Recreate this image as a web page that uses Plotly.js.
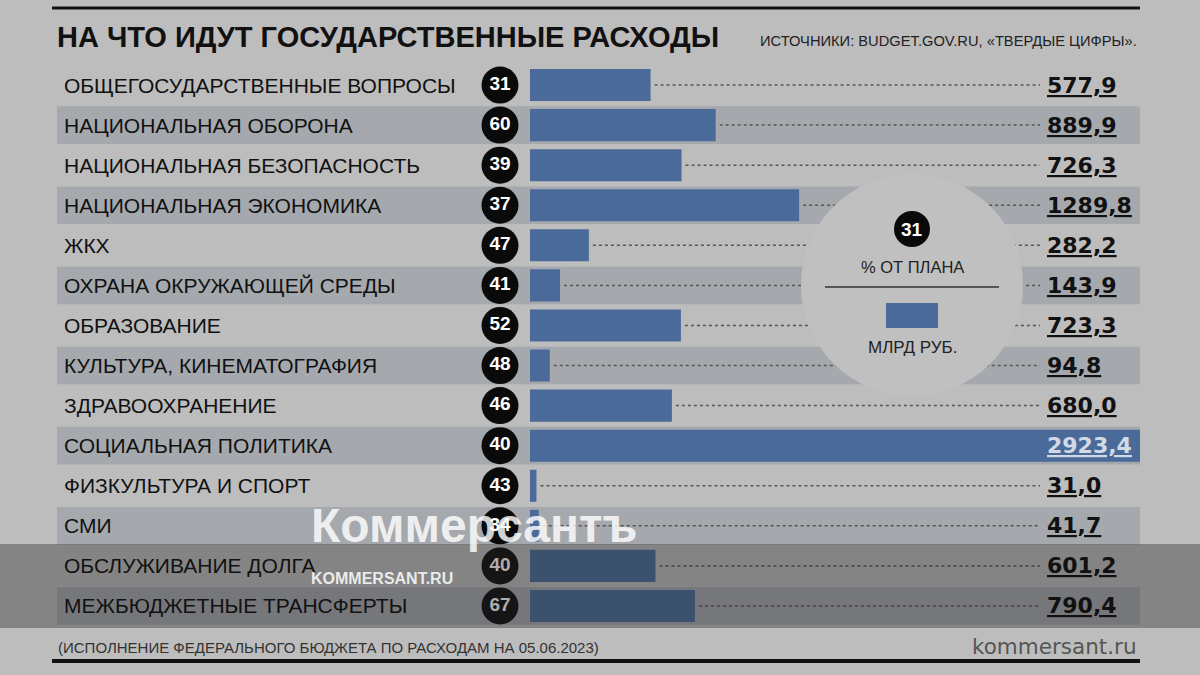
<!DOCTYPE html>
<html><head><meta charset="utf-8">
<script src="https://cdn.plot.ly/plotly-3.0.1.min.js"></script>
<style>html,body{margin:0;padding:0;background:#bdbdbd;}#chart{width:1200px;height:675px;}</style>
</head><body><div id="chart"></div>
<script>
const categories = ["ОБЩЕГОСУДАРСТВЕННЫЕ ВОПРОСЫ","НАЦИОНАЛЬНАЯ ОБОРОНА","НАЦИОНАЛЬНАЯ БЕЗОПАСНОСТЬ","НАЦИОНАЛЬНАЯ ЭКОНОМИКА","ЖКХ","ОХРАНА ОКРУЖАЮЩЕЙ СРЕДЫ","ОБРАЗОВАНИЕ","КУЛЬТУРА, КИНЕМАТОГРАФИЯ","ЗДРАВООХРАНЕНИЕ","СОЦИАЛЬНАЯ ПОЛИТИКА","ФИЗКУЛЬТУРА И СПОРТ","СМИ","ОБСЛУЖИВАНИЕ ДОЛГА","МЕЖБЮДЖЕТНЫЕ ТРАНСФЕРТЫ"];
const spendingBn = [577.9, 889.9, 726.3, 1289.8, 282.2, 143.9, 723.3, 94.8, 680.0, 2923.4, 31.0, 41.7, 601.2, 790.4];
const pctOfPlan = [31, 60, 39, 37, 47, 41, 52, 48, 46, 40, 43, 34, 40, 67];
const titleText = "НА ЧТО ИДУТ ГОСУДАРСТВЕННЫЕ РАСХОДЫ";
const sourceText = "ИСТОЧНИКИ: BUDGET.GOV.RU, «ТВЕРДЫЕ ЦИФРЫ».";
const noteText = "(ИСПОЛНЕНИЕ ФЕДЕРАЛЬНОГО БЮДЖЕТА ПО РАСХОДАМ НА 05.06.2023)";
const legendPct = "% ОТ ПЛАНА";
const legendUnit = "МЛРД РУБ.";
const legendSample = 31;

const W = 1200, H = 675;
const BG = "#bdbdbd", BAND = "#a5a9ae", BLUE = "#4a6b9a";
const xMax = Math.max(...spendingBn);
const plotL = 530, plotR = 1140, rowTop = 65, rowBot = 626;
const px2x = p => (p - plotL) / (plotR - plotL) * xMax;
const px = p => p / W;
const py = p => 1 - p / H;
const n = categories.length;
const idx = categories.map((_, i) => i);
const fmt = v => v.toFixed(1).replace('.', ',');
const bigIdx = spendingBn.indexOf(xMax);
const FONT = 'Liberation Sans, Arial, sans-serif';

const traces = [
  {type: 'bar', orientation: 'h', x: spendingBn, y: idx, width: 0.8,
   marker: {color: BLUE, line: {width: 0}}, hoverinfo: 'skip'},
  {type: 'scatter', mode: 'markers+text', xaxis: 'x2', yaxis: 'y', x: idx.map(() => 0), y: idx,
   text: pctOfPlan.map(String), textposition: 'middle center', cliponaxis: false,
   marker: {size: 37, color: '#0a0a0a'},
   textfont: {family: FONT, size: 19, color: '#ffffff', weight: 700},
   hoverinfo: 'skip'}
];

const shapes = [];
shapes.push({type: 'line', xref: 'paper', yref: 'paper', x0: px(52), x1: px(1140), y0: py(8), y1: py(8), line: {color: '#111', width: 3}});
shapes.push({type: 'line', xref: 'paper', yref: 'paper', x0: px(52), x1: px(1140), y0: py(661), y1: py(661), line: {color: '#111', width: 4}});
idx.forEach(i => { if (i % 2 === 1) shapes.push({type: 'rect', xref: 'paper', yref: 'y', x0: px(57), x1: px(1140), y0: i - 0.47, y1: i + 0.47, fillcolor: BAND, line: {width: 0}, layer: 'below'}); });
idx.forEach(i => { if (i !== bigIdx) shapes.push({type: 'line', xref: 'x', yref: 'y', x0: spendingBn[i] + px2x(plotL + 4), x1: px2x(1040), y0: i, y1: i, line: {color: '#555', width: 1.5, dash: 'dot'}}); });
const cx = 912, cy = 285, r = 111;
shapes.push({type: 'circle', xref: 'paper', yref: 'paper', x0: px(cx - r), x1: px(cx + r), y0: py(cy + r), y1: py(cy - r), fillcolor: '#c0c0c0', line: {width: 0}, layer: 'above'});
shapes.push({type: 'circle', xref: 'paper', yref: 'paper', x0: px(cx - 18), x1: px(cx + 18), y0: py(229 + 18), y1: py(229 - 18), fillcolor: '#0a0a0a', line: {width: 0}, layer: 'above'});
shapes.push({type: 'line', xref: 'paper', yref: 'paper', x0: px(825), x1: px(999), y0: py(287), y1: py(287), line: {color: '#333', width: 1.5}, layer: 'above'});
shapes.push({type: 'rect', xref: 'paper', yref: 'paper', x0: px(886), x1: px(938), y0: py(328), y1: py(303), fillcolor: BLUE, line: {width: 0}, layer: 'above'});
shapes.push({type: 'rect', xref: 'paper', yref: 'paper', x0: 0, x1: 1, y0: py(628), y1: py(544), fillcolor: 'rgba(40,40,40,0.38)', line: {width: 0}, layer: 'above'});

const ann = [];
ann.push({xref: 'paper', yref: 'paper', x: px(55), y: py(37), xanchor: 'left', yanchor: 'middle', text: titleText, showarrow: false, font: {family: FONT, size: 29, color: '#111', weight: 700}});
ann.push({xref: 'paper', yref: 'paper', x: px(1139), y: py(41), xanchor: 'right', yanchor: 'middle', text: sourceText, showarrow: false, font: {family: FONT, size: 14.7, color: '#222'}});
idx.forEach(i => {
  ann.push({xref: 'paper', yref: 'y', x: px(62), y: i, xanchor: 'left', yanchor: 'middle', text: categories[i], showarrow: false, font: {family: FONT, size: 21, color: '#111'}});
  const inside = i === bigIdx;
  ann.push({xref: 'paper', yref: 'y', x: px(1045), y: i, xanchor: 'left', yanchor: 'middle', text: fmt(spendingBn[i]), showarrow: false, font: {family: 'DejaVu Sans, sans-serif', size: 22, color: inside ? '#d2dae6' : '#111', weight: 700, lineposition: 'under'}});
});
ann.push({xref: 'paper', yref: 'paper', x: px(cx), y: py(229), xanchor: 'center', yanchor: 'middle', text: String(legendSample), showarrow: false, font: {family: FONT, size: 19, color: '#fff', weight: 700}});
ann.push({xref: 'paper', yref: 'paper', x: px(cx), y: py(267), xanchor: 'center', yanchor: 'middle', text: legendPct, showarrow: false, font: {family: FONT, size: 16.5, color: '#222'}});
ann.push({xref: 'paper', yref: 'paper', x: px(cx), y: py(347), xanchor: 'center', yanchor: 'middle', text: legendUnit, showarrow: false, font: {family: FONT, size: 17, color: '#222'}});
ann.push({xref: 'paper', yref: 'paper', x: px(56), y: py(647), xanchor: 'left', yanchor: 'middle', text: noteText, showarrow: false, font: {family: FONT, size: 15, color: '#333'}});
ann.push({xref: 'paper', yref: 'paper', x: px(1139), y: py(646), xanchor: 'right', yanchor: 'middle', text: 'kommersant.ru', showarrow: false, font: {family: 'DejaVu Sans, sans-serif', size: 21.5, color: '#555'}});
ann.push({xref: 'paper', yref: 'paper', x: px(474), y: py(525), xanchor: 'center', yanchor: 'middle', text: 'Коммерсантъ', showarrow: false, font: {family: FONT, size: 48, color: 'rgba(255,255,255,0.82)', weight: 700}});
ann.push({xref: 'paper', yref: 'paper', x: px(382), y: py(578), xanchor: 'center', yanchor: 'middle', text: 'KOMMERSANT.RU', showarrow: false, font: {family: FONT, size: 16, color: 'rgba(255,255,255,0.85)', weight: 700}});

const layout = {
  width: W, height: H, margin: {l: 0, r: 0, t: 0, b: 0},
  paper_bgcolor: BG, plot_bgcolor: 'rgba(0,0,0,0)', showlegend: false,
  xaxis: {domain: [px(plotL), px(plotR)], range: [0, xMax], visible: false, fixedrange: true},
  xaxis2: {domain: [px(480), px(520)], range: [-1, 1], visible: false, fixedrange: true},
  yaxis: {domain: [py(rowBot), py(rowTop)], range: [n - 0.5, -0.5], visible: false, fixedrange: true},
  bargap: 0.2, shapes: shapes, annotations: ann
};
Plotly.newPlot('chart', traces, layout, {displayModeBar: false, staticPlot: true});
</script></body></html>
